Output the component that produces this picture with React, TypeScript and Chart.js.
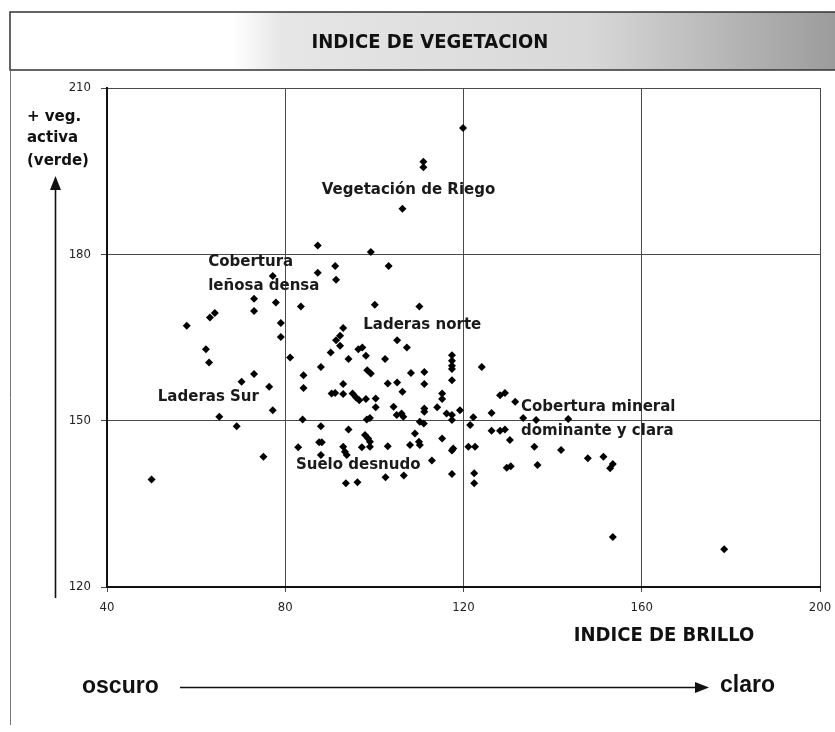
import React, { useEffect, useRef } from "react";
import { Chart, registerables } from "chart.js";

Chart.register(...registerables);

// Brightness index (x) and vegetation index (y) of each sample
const brillo: number[] = [
  119.9, 111.0, 111.0, 106.3, 87.3, 99.2, 91.2, 103.2, 77.2, 87.3,
  91.4, 73.0, 77.9, 83.5, 100.1, 110.1, 73.0, 64.2, 63.1, 57.9,
  79.0, 93.0, 79.0, 92.3, 91.4, 92.3, 105.1, 107.3, 81.1, 90.2,
  96.4, 97.3, 98.1, 94.2, 102.4, 117.4, 117.4, 117.4, 117.4, 88.0,
  98.4, 99.2, 108.2, 111.2, 117.4, 124.1, 84.1, 84.1, 93.0, 103.0,
  105.1, 111.2, 106.3, 90.4, 91.2, 93.0, 95.1, 95.9, 96.6, 98.1,
  100.3, 100.3, 115.2, 115.2, 114.1, 111.2, 111.2, 104.3, 116.2, 117.4,
  119.2, 105.0, 106.1, 106.5, 99.0, 98.3, 122.2, 83.9, 110.2, 111.1,
  117.4, 121.5, 88.0, 94.2, 97.9, 98.6, 99.0, 109.1, 115.2, 82.9,
  87.6, 88.2, 93.0, 93.4, 93.8, 97.2, 99.0, 103.0, 108.0, 110.0,
  110.2, 117.4, 117.7, 121.1, 122.6, 88.0, 112.9, 117.4, 122.4, 122.4,
  93.6, 96.2, 102.5, 106.6, 62.2, 62.9, 73.0, 70.2, 76.4, 77.2,
  65.2, 69.1, 75.1, 50.0, 128.2, 129.3, 131.6, 126.3, 133.4, 136.3,
  143.5, 126.3, 128.2, 129.3, 130.4, 135.9, 141.9, 129.7, 130.6, 136.6,
  147.9, 151.4, 152.9, 153.5, 153.5, 178.5,
];
const vegetacion: number[] = [
  202.8, 196.7, 195.7, 188.2, 181.6, 180.4, 177.9, 177.9, 176.1, 176.7,
  175.4, 172.0, 171.3, 170.6, 170.9, 170.6, 169.8, 169.4, 168.6, 167.1,
  167.6, 166.7, 165.1, 165.3, 164.5, 163.5, 164.5, 163.2, 161.4, 162.3,
  162.9, 163.2, 161.7, 161.1, 161.1, 161.8, 160.8, 159.9, 159.3, 159.7,
  159.1, 158.5, 158.6, 158.8, 157.3, 159.7, 158.2, 155.9, 156.6, 156.7,
  156.9, 156.6, 155.2, 154.9, 155.0, 154.8, 154.9, 154.2, 153.7, 153.9,
  154.0, 152.4, 154.9, 153.9, 152.4, 152.2, 151.6, 152.5, 151.3, 151.0,
  151.9, 151.0, 151.3, 150.7, 150.5, 150.2, 150.6, 150.2, 149.8, 149.5,
  150.1, 149.2, 149.0, 148.4, 147.4, 146.8, 146.2, 147.7, 146.8, 145.2,
  146.1, 146.1, 145.3, 144.4, 143.8, 145.2, 145.3, 145.4, 145.6, 146.2,
  145.6, 144.6, 145.0, 145.3, 145.3, 143.8, 142.8, 140.4, 140.5, 138.7,
  138.7, 138.9, 139.8, 140.1, 162.9, 160.5, 158.4, 157.0, 156.1, 151.9,
  150.7, 149.0, 143.5, 139.4, 154.6, 155.0, 153.4, 151.4, 150.5, 150.1,
  150.3, 148.2, 148.2, 148.4, 146.5, 145.3, 144.7, 141.5, 141.8, 142.0,
  143.2, 143.5, 141.4, 142.2, 129.0, 126.8,
];

const xTicks: number[] = [40, 80, 120, 160, 200];
const yTicks: number[] = [120, 150, 180, 210];

// Cluster labels: text lines, anchored at (brillo, vegetacion) of the first line
const zoneText: string[][] = [
  ["Vegetación de Riego"],
  ["Cobertura", "leñosa densa"],
  ["Laderas norte"],
  ["Laderas Sur"],
  ["Cobertura mineral", "dominante y clara"],
  ["Suelo desnudo"],
];
const zoneX: number[] = [88.2, 62.7, 97.5, 51.4, 132.9, 82.4];
const zoneY: number[] = [191.6, 178.6, 167.25, 154.3, 152.5, 142.0];

const TITLE = "INDICE DE VEGETACION";
const X_TITLE = "INDICE DE BRILLO";
const Y_TITLE = ["+ veg.", "activa", "(verde)"];

const LABEL_FONT = "'DejaVu Sans', sans-serif";
const NARROW = "'Liberation Sans Narrow', 'DejaVu Sans Condensed', 'DejaVu Sans', sans-serif";

function condensed(ctx: any, on: boolean) {
  try {
    ctx.fontStretch = on ? "condensed" : "normal";
  } catch (e) {
    /* ignore */
  }
}

const decorPlugin = {
  id: "decor",
  beforeDraw(chart: any) {
    const ctx = chart.ctx as CanvasRenderingContext2D;
    ctx.save();
    ctx.fillStyle = "#ffffff";
    ctx.fillRect(0, 0, chart.width, chart.height);
    // title box
    const g = ctx.createLinearGradient(10, 0, 835, 0);
    g.addColorStop(0, "#ffffff");
    g.addColorStop(0.27, "#ffffff");
    g.addColorStop(0.33, "#e6e6e6");
    g.addColorStop(0.7, "#d8d8d8");
    g.addColorStop(1, "#9c9c9c");
    ctx.fillStyle = g;
    ctx.fillRect(10, 12, 830, 58);
    ctx.strokeStyle = "#333";
    ctx.lineWidth = 1.5;
    ctx.strokeRect(10, 12, 830, 58);
    ctx.fillStyle = "#111";
    ctx.font = `bold 20px ${NARROW}`;
    condensed(ctx, true);
    ctx.textAlign = "center";
    ctx.textBaseline = "middle";
    ctx.fillText(TITLE, 430, 43);
    condensed(ctx, false);
    // left frame line
    ctx.strokeStyle = "#777";
    ctx.lineWidth = 1;
    ctx.beginPath();
    ctx.moveTo(10.5, 70);
    ctx.lineTo(10.5, 725);
    ctx.stroke();
    ctx.restore();
  },
  afterDraw(chart: any) {
    const ctx = chart.ctx as CanvasRenderingContext2D;
    const xs = chart.scales.x;
    const ys = chart.scales.y;
    ctx.save();
    ctx.fillStyle = "#1a1a1a";
    ctx.textAlign = "left";
    ctx.textBaseline = "middle";
    ctx.font = `bold 15px ${LABEL_FONT}`;
    zoneText.forEach((lines, i) => {
      const px = xs.getPixelForValue(zoneX[i]);
      const py = ys.getPixelForValue(zoneY[i]);
      lines.forEach((t, j) => ctx.fillText(t, px, py + j * 24));
    });
    // y title
    ctx.font = `bold 15px ${LABEL_FONT}`;
    ctx.fillStyle = "#111";
    ctx.fillText(Y_TITLE[0], 27, 117);
    ctx.fillText(Y_TITLE[1], 27, 138);
    ctx.fillText(Y_TITLE[2], 27, 161);
    // y arrow
    ctx.strokeStyle = "#111";
    ctx.lineWidth = 1.6;
    ctx.beginPath();
    ctx.moveTo(55.5, 598);
    ctx.lineTo(55.5, 186);
    ctx.stroke();
    ctx.beginPath();
    ctx.moveTo(55.5, 176);
    ctx.lineTo(50, 190);
    ctx.lineTo(61, 190);
    ctx.closePath();
    ctx.fill();
    // x title
    ctx.font = `bold 20px ${NARROW}`;
    condensed(ctx, true);
    ctx.textAlign = "center";
    ctx.fillText(X_TITLE, 664, 636);
    condensed(ctx, false);
    // bottom arrow
    ctx.font = `bold 23px 'Liberation Sans', Arial, sans-serif`;
    ctx.textAlign = "left";
    ctx.fillText("oscuro", 82, 687);
    ctx.fillText("claro", 720, 686);
    ctx.beginPath();
    ctx.moveTo(180, 687.5);
    ctx.lineTo(700, 687.5);
    ctx.stroke();
    ctx.beginPath();
    ctx.moveTo(709, 687.5);
    ctx.lineTo(695, 682);
    ctx.lineTo(695, 693);
    ctx.closePath();
    ctx.fill();
    ctx.restore();
  },
};

export default function App() {
  const ref = useRef<HTMLCanvasElement | null>(null);
  useEffect(() => {
    document.body.style.margin = "0";
    const canvas = ref.current;
    if (!canvas) return;
    const points = brillo.map((x, i) => ({ x, y: vegetacion[i] }));
    const chart = new Chart(canvas, {
      type: "scatter",
      data: {
        datasets: [
          {
            data: points,
            pointStyle: "rectRot",
            pointRadius: 4,
            backgroundColor: "#000",
            borderColor: "#000",
            borderWidth: 0,
          },
        ],
      },
      options: {
        animation: false,
        responsive: false,
        maintainAspectRatio: false,
        layout: { padding: { left: 0, top: 88, right: 15, bottom: 115 } },
        plugins: { legend: { display: false }, tooltip: { enabled: false } },
        scales: {
          x: {
            type: "linear",
            min: 40,
            max: 200,
            afterBuildTicks: (s: any) => {
              s.ticks = xTicks.map((v) => ({ value: v }));
            },
            afterFit: (s: any) => {
              s.height = 30;
              s.paddingLeft = 0;
              s.paddingRight = 0;
            },
            grid: {
              color: "#4a4a4a",
              lineWidth: 1,
              tickLength: 5,
              drawTicks: true,
            },
            border: { color: "#111", width: 2 },
            ticks: {
              color: "#222",
              font: { family: NARROW, size: 13 },
              padding: 8,
              maxRotation: 0,
            },
          },
          y: {
            type: "linear",
            min: 120,
            max: 210,
            afterBuildTicks: (s: any) => {
              s.ticks = yTicks.map((v) => ({ value: v }));
            },
            afterFit: (s: any) => {
              s.width = 107;
              s.paddingTop = 0;
              s.paddingBottom = 0;
            },
            grid: { color: "#4a4a4a", lineWidth: 1, tickLength: 6 },
            border: { color: "#111", width: 2 },
            ticks: {
              color: "#222",
              font: { family: NARROW, size: 13 },
              padding: 10,
            },
          },
        },
      },
      plugins: [decorPlugin],
    });
    return () => chart.destroy();
  }, []);
  return (
    <div style={{ width: 835, height: 732 }}>
      <canvas ref={ref} width={835} height={732} style={{ display: "block" }} />
    </div>
  );
}
